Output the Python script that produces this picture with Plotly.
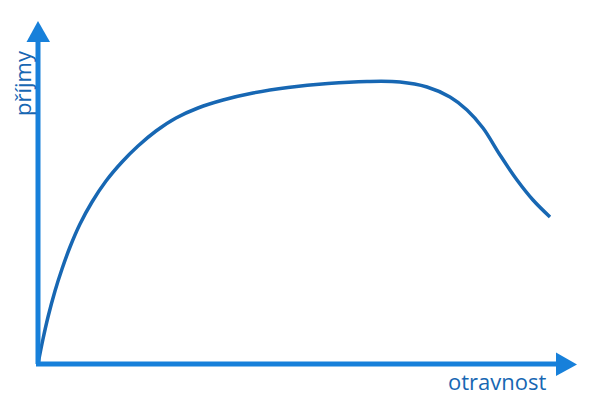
import plotly.graph_objects as go

# otravnost vs. příjmy (odhad z obrázku)
otravnost = [0, 5, 10, 17, 24, 32, 42, 54, 68, 84, 100, 118, 138, 160, 185, 215, 250, 290,
             329, 362, 389, 412, 429, 445, 462, 479, 495, 512]
prijmy = [0, 25, 47, 73, 95, 117, 140, 162, 183, 202, 218, 233, 246, 256, 264, 271, 276.5, 280.5,
          282.5, 282, 277, 267, 254, 236, 209, 184, 164, 147]

axis_color = "#1780da"
curve_color = "#1767b3"

fig = go.Figure()
fig.add_trace(go.Scatter(
    x=otravnost, y=prijmy, mode="lines",
    line=dict(color=curve_color, width=3.5, shape="spline", smoothing=1.0),
    hoverinfo="skip",
))

# osy se šipkami
fig.add_shape(type="line", x0=0, y0=0, x1=0, y1=322, line=dict(color=axis_color, width=5))
fig.add_shape(type="line", x0=-2, y0=0, x1=518, y1=0, line=dict(color=axis_color, width=5))
fig.add_shape(type="path", path="M -11.5 322 L 12 322 L 0 343 Z",
              fillcolor=axis_color, line=dict(width=0))
fig.add_shape(type="path", path="M 518 11.5 L 518 -12 L 539 -0.5 Z",
              fillcolor=axis_color, line=dict(width=0))

fig.add_annotation(x=-16, y=281, text="příjmy", textangle=-90, showarrow=False,
                   font=dict(family="Open Sans", size=22, color=curve_color))
fig.add_annotation(x=459, y=-17, text="otravnost", showarrow=False,
                   font=dict(family="Open Sans", size=22, color=curve_color))

# posun o okraj stránky (8 px)
fig.update_xaxes(range=[-30, 570], visible=False)
fig.update_yaxes(range=[-44, 356], visible=False)
fig.update_layout(
    width=600, height=400,
    margin=dict(l=0, r=0, t=0, b=0),
    plot_bgcolor="white", paper_bgcolor="white",
    showlegend=False,
)
fig.write_html("out.html")
